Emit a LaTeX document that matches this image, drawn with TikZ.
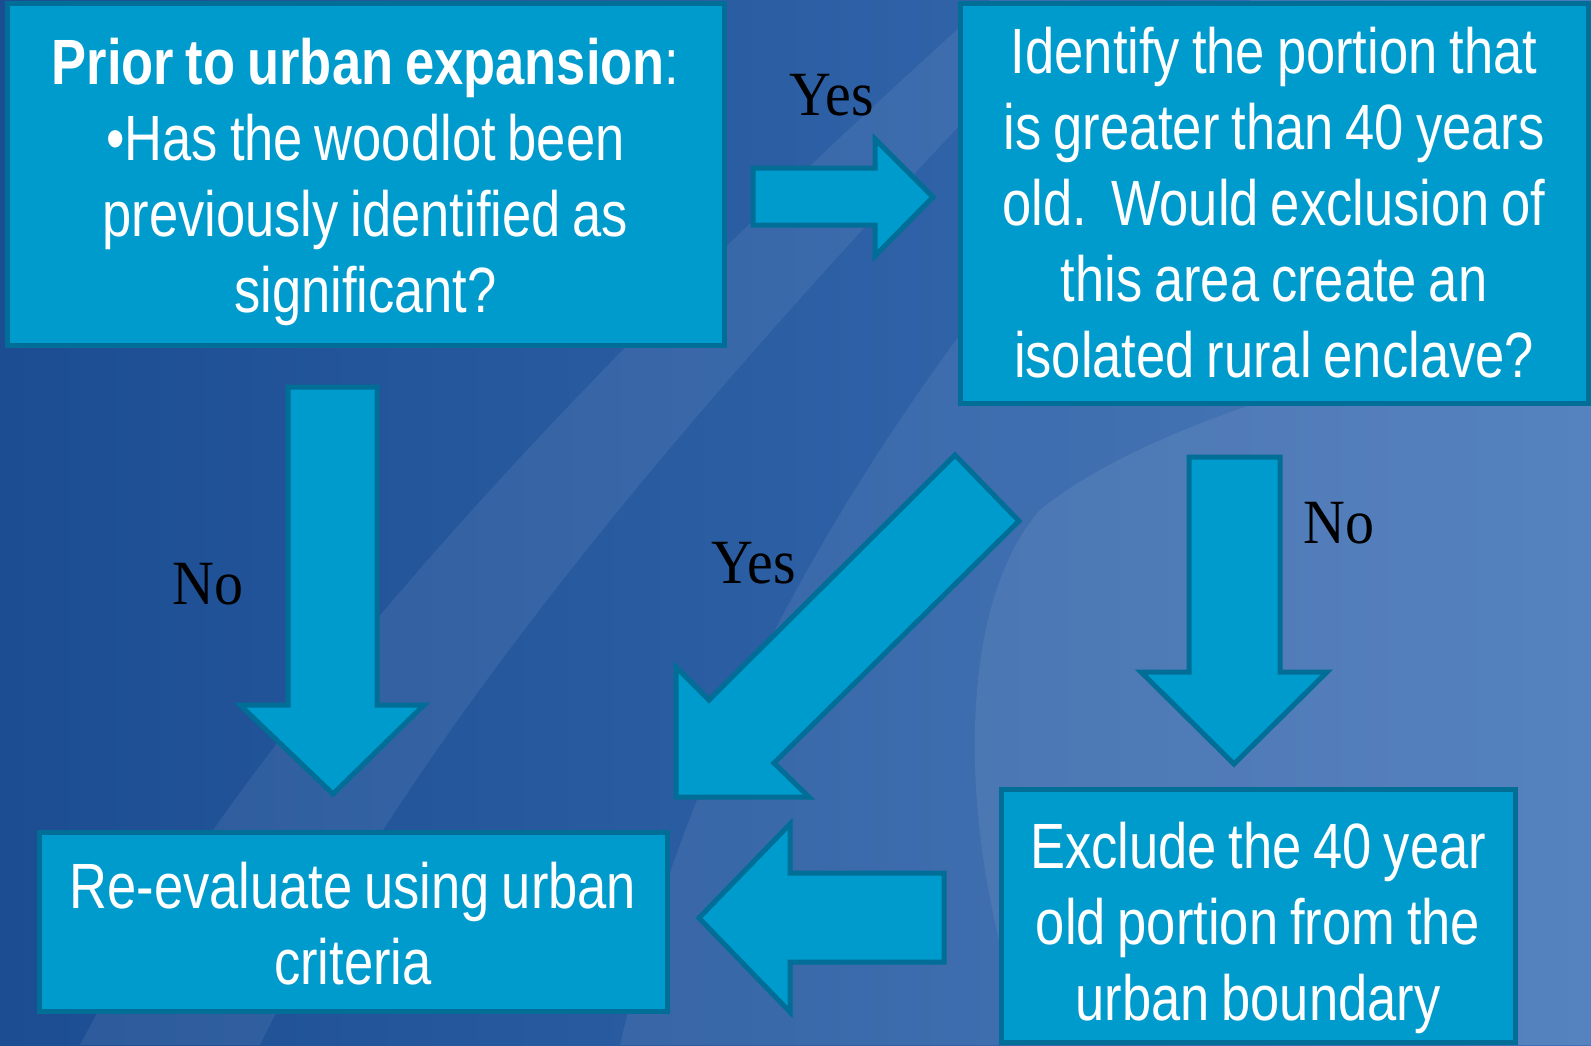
\documentclass[tikz,border=0pt]{standalone}
\usepackage{fontspec}
\setmainfont{Liberation Sans}[FakeStretch=0.82, WordSpace=0.82]
\newfontfamily\labelfont{Liberation Serif}[FakeStretch=0.92]
\definecolor{boxfill}{RGB}{0,155,205}
\definecolor{boxline}{RGB}{0,110,150}
\definecolor{bgleft}{RGB}{28,77,146}
\definecolor{bgright}{RGB}{60,112,182}
\tikzset{
  box/.style={draw=boxline, fill=boxfill, line width=2.5pt, inner sep=0pt},
  boxtext/.style={text=white, align=center, inner sep=0pt,
    font=\fontsize{32pt}{38pt}\selectfont},
  blockarrow/.style={draw=boxline, fill=boxfill, line width=2.5pt, line join=miter},
  answer/.style={font=\labelfont\fontsize{31.5pt}{36pt}\selectfont, text=black, anchor=base, inner sep=0pt},
  lightband/.style={fill=white, fill opacity=0.07, draw=none}
}
\begin{document}
\begin{tikzpicture}[x=0.5pt, y=-0.5pt]
% background
\useasboundingbox (0,0) rectangle (1591,1045);
\shade[left color=bgleft, right color=bgright] (0,0) rectangle (1591,1045);
\fill[lightband] (80,1045) .. controls (250,720) and (600,350) .. (990,0)
  -- (1080,0) .. controls (720,370) and (420,720) .. (260,1045) -- cycle;
\fill[lightband] (620,1045) .. controls (700,700) and (900,350) .. (1250,0)
  -- (1591,0) -- (1591,1045) -- cycle;
\fill[lightband] (1040,510) .. controls (960,600) and (950,820) .. (1030,1045)
  -- (1591,1045) -- (1591,330) .. controls (1400,350) and (1150,420) .. (1040,510) -- cycle;

% boxes
\node[box, minimum width=717*0.5pt, minimum height=342*0.5pt] (b1) at (365.5,174) {};
\node[box, minimum width=628*0.5pt, minimum height=400*0.5pt] (b2) at (1274,203) {};
\node[box, minimum width=628*0.5pt, minimum height=179*0.5pt] (b3) at (353,921.5) {};
\node[box, minimum width=514*0.5pt, minimum height=253*0.5pt] (b4) at (1258,915.5) {};

\node[boxtext] (t1) at (365.5,182)
  {\textbf{Prior to urban expansion}:\\ •Has the woodlot been\\ previously identified as\\ significant?};
\node[boxtext] (t2) at (1274,203)
  {Identify the portion that\\ is greater than 40 years\\ old.\ \ Would exclusion of\\ this area create an\\ isolated rural enclave?};
\node[boxtext] (t3) at (353,924)
  {Re-evaluate using urban\\ criteria};
\node[boxtext] (t4) at (1258,928)
  {Exclude the 40 year\\ old portion from the\\ urban boundary};

% block arrows
\draw[blockarrow] (753,168) -- (875,168) -- (875,139) -- (933,197) -- (875,256) -- (875,225) -- (753,225) -- cycle;
\draw[blockarrow] (288,387) -- (377,387) -- (377,705) -- (424,705) -- (333,794) -- (240,705) -- (288,705) -- cycle;
\draw[blockarrow] (955,455) -- (1019,521) -- (774,763) -- (809,797) -- (676,797) -- (676,667) -- (709,700) -- cycle;
\draw[blockarrow] (1189,457) -- (1280,457) -- (1280,672) -- (1327,672) -- (1234,764) -- (1141,672) -- (1189,672) -- cycle;
\draw[blockarrow] (944,873) -- (790,873) -- (790,824) -- (699,918) -- (790,1012) -- (790,962) -- (944,962) -- cycle;

% answers
\node[answer] (y1) at (832,115) {Yes};
\node[answer] (n1) at (208,604) {No};
\node[answer] (y2) at (754,583) {Yes};
\node[answer] (n2) at (1339,543) {No};
\end{tikzpicture}
\end{document}
